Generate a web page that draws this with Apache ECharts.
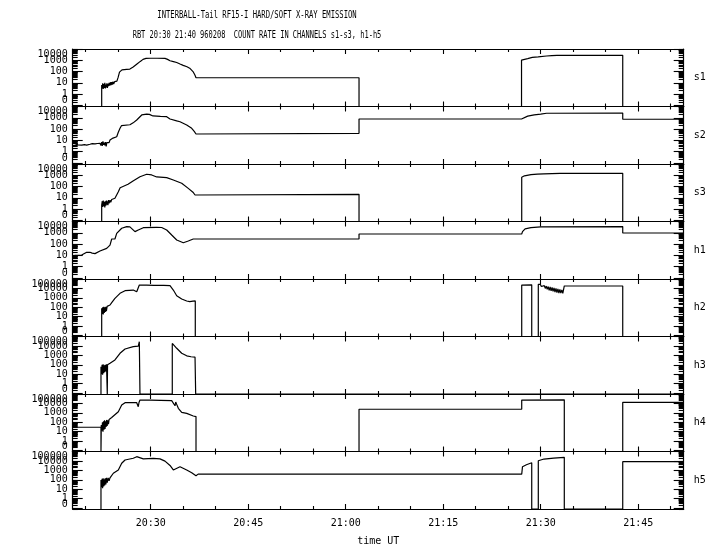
<!DOCTYPE html>
<html>
<head>
<meta charset="utf-8">
<script src="https://cdn.jsdelivr.net/npm/echarts@6/dist/echarts.min.js"></script>
<style>html,body{margin:0;padding:0;background:#fff;}#chart{width:720px;height:550px;}</style>
</head>
<body>
<div id="chart"></div>
<script>
// ---- Data: time in minutes after 20:00 UT, value = log10(count rate); null = no data (drawn at panel floor)
const panelNames = ['s1', 's2', 's3', 'h1', 'h2', 'h3', 'h4', 'h5'];
const panelTopDecade = [4, 4, 4, 4, 5, 5, 5, 5];
const timeTicks = [30, 45, 60, 75, 90, 105];
const timeTickLabels = ['20:30', '20:45', '21:00', '21:15', '21:30', '21:45'];
const titleLine1 = 'INTERBALL-Tail RF15-I HARD/SOFT X-RAY EMISSION';
const titleLine2 = 'RBT 20:30 21:40 960208  COUNT RATE IN CHANNELS s1-s3, h1-h5';

const s1 = [[22.46,null],[22.46,0.8],[22.55,0.5],[22.62,0.95],[22.7,0.45],[22.78,0.9],[22.86,0.55],[22.94,1.0],[23.02,0.5],[23.1,0.85],[23.18,0.6],[23.26,0.95],[23.34,0.55],[23.42,0.9],[23.5,0.7],[23.6,1.0],[23.7,0.75],[23.8,1.05],[23.9,0.8],[24.0,1.05],[24.1,0.85],[24.2,1.1],[24.3,0.9],[24.45,1.1],[24.6,1.0],[24.8,1.15],[25.0,1.5],[25.2,1.95],[25.4,2.05],[25.58,2.15],[25.74,2.2],[26.3,2.2],[26.8,2.22],[27.3,2.4],[27.89,2.67],[28.4,2.9],[28.82,3.08],[29.28,3.17],[30.0,3.18],[31.0,3.18],[32.2,3.17],[32.6,3.08],[32.97,2.96],[33.5,2.88],[34.0,2.8],[34.51,2.67],[35.0,2.55],[35.58,2.43],[36.0,2.3],[36.51,2.0],[36.8,1.7],[36.97,1.45],[62.05,1.45],[62.05,null],[87.05,null],[87.05,3.02],[87.17,3.08],[88.0,3.15],[88.7,3.25],[89.6,3.3],[90.9,3.38],[91.7,3.42],[92.5,3.44],[102.62,3.44],[102.62,null],[112,null]];

const s2 = [[18.0,0.79],[18.35,0.7],[18.8,0.6],[19.4,0.58],[19.8,0.62],[20.15,0.58],[20.66,0.65],[21.0,0.7],[21.43,0.68],[21.8,0.72],[22.2,0.73],[22.35,0.55],[22.45,0.85],[22.55,0.5],[22.65,0.9],[22.75,0.6],[22.85,0.8],[22.95,0.55],[23.05,0.85],[23.15,0.45],[23.25,0.8],[23.35,0.7],[23.5,0.95],[23.6,0.8],[23.74,1.03],[23.85,0.95],[24.0,1.1],[24.2,1.2],[24.5,1.3],[24.77,1.32],[25.0,1.7],[25.28,2.07],[25.5,2.3],[25.74,2.36],[26.8,2.38],[27.3,2.55],[27.85,2.8],[28.62,3.25],[29.38,3.33],[29.8,3.3],[30.35,3.16],[31.5,3.12],[32.46,3.1],[32.97,2.89],[34.0,2.72],[34.51,2.65],[35.54,2.36],[36.31,2.07],[36.7,1.8],[36.97,1.56],[37.2,1.62],[62.05,1.62],[62.05,2.89],[87.05,2.89],[87.1,3.04],[88.0,3.15],[89.0,3.25],[90.0,3.32],[90.9,3.4],[102.62,3.42],[102.62,2.87],[112,2.87]];

const s3 = [[22.46,null],[22.46,0.36],[22.55,0.7],[22.62,0.2],[22.7,0.75],[22.78,0.25],[22.86,0.65],[22.94,0.15],[23.02,0.7],[23.1,0.3],[23.18,0.75],[23.26,0.4],[23.34,0.7],[23.42,0.35],[23.5,0.8],[23.6,0.5],[23.74,0.8],[23.85,0.6],[24.0,0.85],[24.2,0.75],[24.5,0.96],[24.77,1.0],[25.02,1.54],[25.3,1.9],[25.54,2.05],[26.51,2.2],[27.28,2.49],[28.35,2.87],[29.38,3.09],[30.15,3.03],[30.92,2.85],[32.46,2.79],[33.48,2.58],[34.77,2.29],[35.78,1.84],[36.5,1.5],[36.82,1.25],[37.0,1.31],[62.05,1.31],[62.05,null],[87.08,null],[87.08,2.82],[87.5,2.95],[88.5,3.05],[89.5,3.1],[90.5,3.13],[92.97,3.17],[102.62,3.17],[102.62,null],[112,null]];

const h1 = [[18.0,0.88],[18.35,1.0],[19.38,1.03],[20.15,1.27],[20.66,1.27],[21.0,1.2],[21.43,1.15],[22.2,1.38],[23.23,1.62],[23.74,1.91],[24.0,2.45],[24.5,2.45],[24.77,2.95],[25.54,3.4],[26.31,3.54],[26.8,3.52],[27.08,3.4],[27.58,3.1],[28.09,3.25],[28.86,3.45],[30.92,3.48],[31.69,3.47],[32.46,3.25],[33.23,2.8],[34.0,2.36],[35.02,2.12],[35.78,2.27],[36.55,2.45],[37.32,2.45],[62.05,2.45],[62.05,2.89],[87.08,2.89],[87.2,3.1],[87.6,3.35],[88.5,3.45],[90.0,3.52],[102.62,3.55],[102.62,2.98],[112,2.98]];

const h2 = [[22.46,null],[22.46,1.89],[22.55,1.3],[22.62,2.0],[22.7,1.25],[22.78,2.05],[22.86,1.4],[22.94,2.0],[23.02,1.5],[23.1,2.06],[23.18,1.6],[23.3,2.1],[23.5,1.9],[23.74,2.24],[24.0,2.5],[24.5,2.95],[25.28,3.48],[26.05,3.76],[27.32,3.83],[27.85,3.65],[28.1,3.7],[28.25,4.36],[29.38,4.36],[30.5,4.33],[32.0,4.32],[32.97,4.29],[33.48,3.83],[34.0,3.23],[34.77,2.88],[35.54,2.67],[36.0,2.6],[36.5,2.65],[36.86,2.67],[36.86,null],[87.08,null],[87.08,4.36],[88.62,4.38],[88.62,null],[89.63,null],[89.63,4.44],[89.8,4.3],[89.95,4.42],[90.1,4.2],[90.25,4.35],[90.4,4.1],[90.55,4.3],[90.7,4.0],[90.85,4.25],[91.0,3.9],[91.15,4.2],[91.3,3.8],[91.45,4.15],[91.6,3.75],[91.75,4.1],[91.9,3.7],[92.05,4.05],[92.2,3.6],[92.35,4.0],[92.5,3.55],[92.65,3.95],[92.8,3.5],[92.95,3.9],[93.1,3.5],[93.25,3.85],[93.4,3.48],[93.63,3.5],[93.63,4.26],[102.62,4.26],[102.62,null],[112,null]];

const h3 = [[22.35,null],[22.35,1.8],[22.45,1.0],[22.52,2.0],[22.6,0.95],[22.68,2.05],[22.76,1.1],[22.84,1.95],[22.92,1.2],[23.0,2.0],[23.1,1.3],[23.2,2.05],[23.32,1.9],[23.32,null],[23.36,null],[23.36,2.0],[23.74,2.16],[24.5,2.51],[25.28,3.22],[26.05,3.67],[27.32,3.92],[28.09,3.98],[28.25,4.45],[28.35,4.3],[28.35,null],[33.32,null],[33.32,4.27],[33.48,4.45],[34.0,3.75],[34.77,3.22],[35.54,2.95],[36.2,2.85],[36.82,2.81],[36.92,2.75],[36.92,null],[112,null]];

const h4 = [[18.0,1.47],[22.35,1.47],[22.35,null],[22.4,null],[22.4,1.7],[22.5,1.1],[22.58,2.0],[22.66,1.0],[22.74,2.1],[22.82,1.2],[22.9,2.2],[22.98,1.3],[23.06,2.1],[23.14,1.5],[23.22,2.25],[23.3,1.6],[23.4,2.2],[23.5,1.8],[23.6,2.3],[23.74,2.1],[24.0,2.5],[24.25,2.6],[25.02,3.12],[25.54,3.83],[26.05,4.08],[27.85,4.08],[28.0,4.0],[28.09,3.65],[28.2,4.1],[28.35,4.36],[30.0,4.36],[31.5,4.33],[33.23,4.29],[33.5,4.2],[33.74,3.75],[33.85,4.15],[34.0,3.9],[34.25,3.48],[34.77,3.05],[35.54,2.95],[36.55,2.67],[36.97,2.6],[36.97,null],[62.05,null],[62.05,3.38],[87.08,3.38],[87.08,4.36],[93.63,4.38],[93.63,null],[102.62,null],[102.62,4.12],[112,4.12]];

const h5 = [[22.35,null],[22.35,1.98],[22.45,1.2],[22.52,2.1],[22.6,1.1],[22.68,2.15],[22.76,1.3],[22.84,2.05],[22.92,1.4],[23.0,2.16],[23.1,1.5],[23.2,2.2],[23.32,1.7],[23.45,2.2],[23.6,1.9],[23.74,2.2],[24.25,2.69],[25.02,3.04],[25.54,3.75],[26.05,4.1],[27.32,4.28],[27.6,4.3],[27.85,4.45],[28.0,4.25],[28.86,4.22],[30.4,4.28],[31.43,4.22],[32.2,3.98],[32.97,3.52],[33.48,3.04],[34.51,3.39],[35.54,3.04],[36.31,2.75],[36.97,2.43],[37.3,2.6],[87.08,2.6],[87.1,2.69],[87.2,3.39],[87.8,3.6],[88.62,3.81],[88.62,null],[89.63,null],[89.63,4.02],[90.5,4.2],[92.0,4.3],[93.63,4.38],[93.63,null],[102.62,null],[102.62,3.92],[112,3.92]];

const panelData = [s1, s2, s3, h1, h2, h3, h4, h5];

// ---- Layout
const Y_MIN = -1.1;
const ZERO_LEVEL = -0.56;
const T_MIN = 18, T_MAX = 112;
const GRID_LEFT = 72.7, GRID_W = 611, GRID_TOP = 49, PANEL_H = 57.5;
const FONT = '"DejaVu Sans Mono", "Liberation Mono", monospace';

const minorTimeTicks = [];
for (let m = 20; m <= 110; m += 5) if (m % 15 !== 0) minorTimeTicks.push(m);

function decadeTicks(maxD) { const a = []; for (let d = -1; d <= maxD; d++) a.push(d); return a; }
function minorLogTicks(maxD) {
  const a = [];
  for (let d = -2; d < maxD; d++) for (let k = 2; k <= 9; k++) {
    const v = d + Math.log10(k);
    if (v > Y_MIN && v < maxD) a.push(v);
  }
  return a;
}
const fmtRate = v => (v < -0.1 ? '0' : String(Math.round(Math.pow(10, v))));

const grids = [], xAxes = [], yAxes = [], series = [];
panelNames.forEach((name, i) => {
  const maxD = panelTopDecade[i];
  const last = i === panelNames.length - 1;
  grids.push({ left: GRID_LEFT, width: GRID_W, top: GRID_TOP + i * PANEL_H, height: PANEL_H });
  const lineS = { show: true, onZero: false, lineStyle: { color: '#000', width: 1.2 } };
  const noLine = { show: false, onZero: false };
  const tickS = { color: '#000', width: 1.1 };
  const baseX = { type: 'value', gridIndex: i, min: T_MIN, max: T_MAX, splitLine: { show: false } };
  xAxes.push(Object.assign({}, baseX, {
    position: 'bottom', axisLine: lineS,
    axisTick: { show: true, inside: true, length: 5, customValues: timeTicks, lineStyle: tickS },
    axisLabel: last ? { show: true, customValues: timeTicks, formatter: v => timeTickLabels[timeTicks.indexOf(v)], color: '#000', fontFamily: FONT, fontSize: 10, margin: 9 } : { show: false },
    name: last ? 'time UT' : '', nameLocation: 'middle', nameGap: 27,
    nameTextStyle: { color: '#000', fontFamily: FONT, fontSize: 10 }
  }));
  xAxes.push(Object.assign({}, baseX, {
    position: 'bottom', axisLine: noLine,
    axisTick: { show: true, inside: true, length: 3, customValues: minorTimeTicks, lineStyle: tickS },
    axisLabel: { show: false }
  }));
  xAxes.push(Object.assign({}, baseX, {
    position: 'top', axisLine: lineS,
    axisTick: { show: true, inside: true, length: 5, customValues: timeTicks, lineStyle: tickS },
    axisLabel: { show: false }
  }));
  xAxes.push(Object.assign({}, baseX, {
    position: 'top', axisLine: noLine,
    axisTick: { show: true, inside: true, length: 3, customValues: minorTimeTicks, lineStyle: tickS },
    axisLabel: { show: false }
  }));

  // rate labels split over two coincident left axes so neighbouring labels are never auto-hidden
  const evenLabels = [0, 2, 4].filter(d => d <= maxD);
  const oddLabels = [ZERO_LEVEL, 1, 3, 5].filter(d => d <= maxD);
  const evenHasMax = evenLabels[evenLabels.length - 1] === maxD;
  const labelBase = { show: true, color: '#000', fontFamily: FONT, fontSize: 10, margin: 5, showMinLabel: true, showMaxLabel: true, hideOverlap: false, formatter: fmtRate };

  const baseY = { type: 'value', gridIndex: i, min: Y_MIN, max: maxD, splitLine: { show: false } };
  yAxes.push(Object.assign({}, baseY, {
    position: 'left', axisLine: lineS,
    axisTick: { show: true, inside: true, length: 10, customValues: decadeTicks(maxD), lineStyle: tickS },
    axisLabel: Object.assign({}, labelBase, { customValues: evenLabels }, evenHasMax ? { verticalAlignMaxLabel: 'top' } : {})
  }));
  yAxes.push(Object.assign({}, baseY, {
    position: 'left', axisLine: noLine,
    axisTick: { show: true, inside: true, length: 5, customValues: minorLogTicks(maxD), lineStyle: tickS },
    axisLabel: Object.assign({}, labelBase, { customValues: oddLabels }, evenHasMax ? {} : { verticalAlignMaxLabel: 'top' })
  }));
  yAxes.push(Object.assign({}, baseY, {
    position: 'right', axisLine: lineS,
    axisTick: { show: true, inside: true, length: 10, customValues: decadeTicks(maxD), lineStyle: tickS },
    axisLabel: { show: false },
    name: name, nameLocation: 'middle', nameRotate: 0, nameGap: 10,
    nameTextStyle: { color: '#000', fontFamily: FONT, fontSize: 10, align: 'left', verticalAlign: 'middle' }
  }));
  yAxes.push(Object.assign({}, baseY, {
    position: 'right', axisLine: noLine,
    axisTick: { show: true, inside: true, length: 5, customValues: minorLogTicks(maxD), lineStyle: tickS },
    axisLabel: { show: false }
  }));

  series.push({
    type: 'line', name: name, xAxisIndex: 4 * i, yAxisIndex: 4 * i,
    data: panelData[i].map(p => [p[0], p[1] === null ? Y_MIN : p[1]]),
    showSymbol: false, symbol: 'none', silent: true,
    lineStyle: { color: '#000', width: 1.2 }, clip: true
  });
});

const chart = echarts.init(document.getElementById('chart'), null, { renderer: 'canvas' });
chart.setOption({
  animation: false,
  backgroundColor: '#fff',
  grid: grids, xAxis: xAxes, yAxis: yAxes, series: series,
  graphic: [
    { type: 'text', x: 257, y: 15, scaleX: 0.72, style: { text: titleLine1, font: '10px ' + FONT, fill: '#000', align: 'center', verticalAlign: 'middle' } },
    { type: 'text', x: 257, y: 35, scaleX: 0.70, style: { text: titleLine2, font: '10px ' + FONT, fill: '#000', align: 'center', verticalAlign: 'middle' } }
  ]
});
</script>
</body>
</html>
